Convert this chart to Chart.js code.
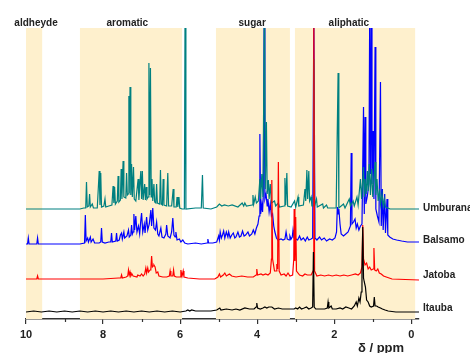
<!DOCTYPE html>
<html>
<head>
<meta charset="utf-8">
<script src="https://cdn.jsdelivr.net/npm/chart.js@4"></script>
<style>
  body { margin: 0; background: #fff; }
  canvas { display: block; }
</style>
</head>
<body>
<canvas id="nmrChart" width="470" height="353"></canvas>
<script>
// spectra as [ppm, height above its own baseline]
let umburanaPeaks = [
    [10.0,0],[9.0,0],[8.6,0],[8.5,1],
    [8.45,1],[8.43,27],[8.41,2],[8.37,3],[8.35,15],[8.33,2],[8.28,5],[8.25,1],
    [8.15,1],[8.10,38],[8.08,4],[8.06,36],[8.04,2],[7.98,3],[7.95,10],[7.93,2],[7.85,3],
    [7.77,4],[7.74,23],[7.72,6],[7.70,22],[7.68,5],[7.63,8],[7.61,33],[7.59,7],
    [7.55,9],[7.53,40],[7.51,10],[7.48,48],[7.46,12],[7.41,11],[7.39,36],[7.37,14],
    [7.35,15],[7.33,113],[7.32,16],[7.30,122],[7.28,14],[7.26,45],[7.24,12],[7.21,42],[7.19,10],
    [7.15,8],[7.09,30],[7.07,9],[7.02,38],[7.00,10],[6.98,38],[6.96,9],[6.92,25],[6.90,9],[6.88,22],[6.86,10],
    [6.83,12],[6.81,146],[6.79,14],[6.77,141],[6.75,12],[6.73,30],[6.71,8],[6.68,25],[6.66,7],
    [6.63,6],[6.61,25],[6.59,6],[6.53,5],[6.51,39],[6.49,5],[6.46,4],[6.44,30],[6.42,4],
    [6.35,3],[6.32,36],[6.30,3],[6.22,3],[6.18,20],[6.16,2],[6.10,2],[6.08,12],[6.06,2],[6.03,12],[6.01,1],
    [5.95,0],[5.89,0],[5.87,220],[5.85,0],[5.6,1],[5.45,1],[5.42,34],[5.40,1],[5.2,0],
    [5.05,2],[4.98,5],[4.92,3],[4.85,4],[4.75,3],[4.65,4],[4.5,2],[4.39,6],[4.35,3],[4.32,6],[4.28,3],
    [4.13,4],[4.11,14],[4.09,5],[4.05,12],[4.02,6],[3.97,8],[3.93,30],[3.91,10],[3.88,35],[3.85,12],
    [3.81,220],[3.79,20],[3.76,87],[3.74,15],[3.71,29],[3.69,10],[3.66,25],[3.63,6],[3.55,8],[3.52,3],[3.45,6],[3.42,2],
    [3.30,3],[3.28,31],[3.26,4],[3.23,36],[3.21,3],[3.12,2],[3.03,8],[3.00,2],[2.94,12],[2.92,3],
    [2.80,4],[2.76,20],[2.74,8],[2.71,39],[2.69,10],[2.66,38],[2.64,8],[2.60,12],[2.58,3],
    [2.55,3],[2.53,150],[2.51,3],[2.46,10],[2.44,2],[2.30,5],[2.28,1],[2.20,4],[2.17,1],
    [1.95,1],[1.90,136],[1.88,1],[1.76,5],[1.72,1],[1.61,10],[1.58,3],[1.51,8],[1.48,3],[1.41,12],[1.38,4],
    [1.32,30],[1.29,10],[1.24,42],[1.22,12],[1.20,30],[1.17,15],[1.14,38],[1.12,18],[1.09,45],[1.06,14],[1.03,40],[1.00,12],
    [0.94,47],[0.92,14],[0.89,30],[0.86,8],[0.82,20],[0.80,5],[0.76,15],[0.73,3],[0.70,10],[0.67,2],[0.55,0],[-0.2,0]
];

let balsamoPeaks = [
    [10.0,0],[9.96,0],[9.94,6],[9.92,0],[9.72,0],[9.70,6],[9.68,0],[8.6,0],
    [8.48,1],[8.46,29],[8.44,3],[8.40,6],[8.38,2],[8.33,7],[8.31,2],[8.26,5],[8.22,1],[8.10,1],
    [8.06,2],[8.04,16],[8.02,2],[7.95,1],[7.85,2],[7.80,2],[7.78,11],[7.76,2],[7.67,3],[7.65,11],[7.63,3],
    [7.58,4],[7.55,9],[7.52,11],[7.50,5],[7.46,12],[7.44,6],[7.38,8],[7.34,14],[7.32,7],[7.28,9],[7.26,19],[7.24,10],
    [7.22,12],[7.20,30],[7.18,14],[7.15,28],[7.12,12],[7.08,18],[7.05,10],[7.02,24],[7.00,31],[6.97,12],[6.93,20],[6.91,11],
    [6.87,27],[6.84,14],[6.80,20],[6.76,34],[6.74,18],[6.71,36],[6.68,16],[6.64,14],[6.61,22],[6.58,10],[6.55,8],
    [6.50,16],[6.47,7],[6.42,6],[6.37,10],[6.35,19],[6.32,8],[6.26,6],[6.22,12],[6.19,26],[6.16,9],[6.13,7],[6.11,12],[6.08,4],
    [6.02,5],[5.98,2],[5.93,4],[5.88,1],[5.80,0],[5.60,1],[5.45,0],[5.30,1],[5.28,5],[5.26,1],[5.15,1],
    [5.05,2],[5.00,8],[4.98,4],[4.96,12],[4.93,6],[4.90,9],[4.87,13],[4.84,6],[4.80,12],[4.76,7],[4.74,12],[4.70,6],
    [4.66,9],[4.62,11],[4.58,6],[4.55,7],[4.50,12],[4.46,7],[4.42,8],[4.38,13],[4.34,8],[4.30,9],[4.24,12],[4.20,8],
    [4.14,10],[4.10,14],[4.06,10],[4.02,16],[3.98,20],[3.95,28],[3.93,110],[3.91,30],[3.88,40],[3.86,32],[3.84,50],
    [3.82,220],[3.80,45],[3.77,50],[3.74,38],[3.72,45],[3.69,32],[3.66,40],[3.63,28],[3.60,30],[3.57,18],[3.54,12],[3.50,6],[3.46,4],
    [3.38,5],[3.33,4],[3.28,5],[3.25,12],[3.22,5],[3.17,4],[3.15,8],[3.12,5],[3.09,7],[3.07,14],[3.05,8],[3.03,10],[3.00,5],
    [2.95,4],[2.90,8],[2.86,4],[2.80,6],[2.75,3],[2.70,7],[2.66,4],[2.60,5],[2.56,6],[2.53,230],[2.50,6],
    [2.45,4],[2.38,7],[2.33,4],[2.26,6],[2.20,3],[2.12,5],[2.05,4],[1.98,6],[1.94,12],[1.92,37],[1.90,30],[1.88,35],[1.85,20],[1.82,10],
    [1.76,8],[1.70,10],[1.64,12],[1.58,18],[1.56,91],[1.54,20],[1.50,22],[1.46,25],[1.43,16],[1.40,20],[1.36,14],[1.32,18],[1.28,20],
    [1.24,137],[1.22,30],[1.20,127],[1.18,40],[1.14,48],[1.10,60],[1.08,230],[1.06,70],[1.04,230],[1.02,60],[0.99,113],[0.97,45],[0.94,197],[0.92,35],
    [0.88,28],[0.84,22],[0.80,162],[0.78,18],[0.75,55],[0.73,14],[0.69,50],[0.67,11],[0.63,45],[0.61,9],[0.56,7],[0.48,5],[0.38,4],[0.25,3],[0.10,2],[-0.2,2]
];

let jatobaPeaks = [
    [10.0,0],[9.72,0],[9.70,3],[9.68,0],[8.6,0],[8.0,0],[7.6,1],[7.54,1],[7.52,4],[7.50,1],[7.40,2],
    [7.36,3],[7.34,9],[7.32,4],[7.30,7],[7.28,3],[7.25,5],[7.22,3],[7.12,2],[7.10,4],[7.04,3],[7.00,5],[6.96,3],
    [6.92,5],[6.89,11],[6.87,6],[6.84,11],[6.82,7],[6.78,9],[6.76,10],[6.74,23],[6.72,12],[6.70,13],[6.68,14],[6.65,12],[6.62,6],[6.58,7],[6.55,3],
    [6.45,2],[6.35,2],[6.28,3],[6.26,8],[6.24,3],[6.19,3],[6.17,9],[6.15,3],[6.10,2],[6.00,2],[5.98,9],[5.95,3],[5.92,8],[5.90,2],
    [5.80,1],[5.5,0],[5.1,0],[5.02,2],[4.98,5],[4.95,2],[4.88,4],[4.84,6],[4.80,3],[4.72,5],[4.66,3],[4.55,2],[4.40,3],[4.25,2],
    [4.10,2],[4.03,4],[4.01,10],[3.99,4],[3.90,5],[3.85,4],[3.78,5],[3.72,4],[3.66,6],[3.63,20],[3.62,99],[3.60,20],[3.55,8],
    [3.50,8],[3.49,15],[3.47,10],[3.45,117],[3.43,8],[3.38,4],[3.30,5],[3.25,3],[3.20,6],[3.15,3],[3.08,4],
    [3.05,20],[3.04,70],[3.02,18],[3.00,62],[2.98,8],[2.90,4],[2.82,3],[2.76,5],[2.70,4],[2.60,4],[2.55,8],[2.53,270],[2.51,8],
    [2.45,3],[2.35,4],[2.25,3],[2.15,4],[2.05,3],[1.95,4],[1.85,3],[1.75,4],[1.65,3],[1.55,4],[1.45,5],[1.38,4],[1.32,6],
    [1.28,12],[1.26,54],[1.24,20],[1.20,14],[1.16,16],[1.12,10],[1.08,12],[1.04,9],[0.99,10],[0.97,31],[0.95,9],[0.91,8],[0.87,10],[0.83,6],
    [0.78,5],[0.72,3],[0.65,2],[0.50,0],[-0.2,-1]
];

let itaubaPeaks = [
    [10.0,0],[9.8,1],[9.6,0],[9.4,1],[9.2,0],[9.0,1],[8.8,0],[8.6,1],[8.4,0],[8.2,1],[8.0,0],[7.8,1],[7.6,0],[7.4,1],[7.2,0],[7.0,1],[6.8,0],[6.6,1],[6.4,0],[6.2,1],[6.0,0],
    [5.85,1],[5.80,2],[5.75,1],[5.70,2],[5.60,1],[5.4,1],[5.2,1],[5.05,2],[4.97,4],[4.94,2],[4.80,3],[4.65,2],[4.55,3],[4.45,2],[4.32,4],[4.20,3],
    [4.08,3],[4.03,5],[4.01,9],[3.99,4],[3.92,3],[3.85,4],[3.80,5],[3.75,4],[3.70,5],[3.62,5],[3.55,3],[3.45,4],[3.35,3],[3.25,3],[3.15,3],
    [3.04,3],[3.00,4],[2.95,3],[2.90,5],[2.85,3],[2.78,4],[2.72,5],[2.66,3],[2.60,4],[2.56,5],[2.54,60],[2.52,5],[2.48,3],
    [2.35,3],[2.25,3],[2.18,4],[2.16,10],[2.14,4],[2.08,6],[2.05,3],[1.95,3],[1.85,4],[1.78,3],[1.70,5],[1.62,4],[1.55,3],
    [1.48,6],[1.43,10],[1.40,6],[1.36,14],[1.33,10],[1.30,20],[1.28,40],[1.26,85],[1.24,34],[1.22,30],[1.19,25],[1.16,12],[1.12,10],[1.08,6],[1.04,5],
    [0.98,6],[0.96,15],[0.94,6],[0.90,6],[0.86,5],[0.80,4],[0.75,3],[0.68,2],[0.60,1],[0.40,0],[-0.2,0]
];

// stacking: each trace sits on its own baseline
let sampleNames = ['Itauba', 'Jatoba', 'Umburana', 'Balsamo'];
let sampleOffsets = [7, 40, 110, 75];
let sampleColors = ['#000000', '#ff0000', '#008080', '#0000ff'];
let sampleData = [itaubaPeaks, jatobaPeaks, umburanaPeaks, balsamoPeaks];

// shaded regions [from ppm, to ppm] and their captions
let regionNames = ['aldheyde', 'aromatic', 'sugar', 'aliphatic'];
let regionRanges = [[10.0, 9.58], [8.6, 5.95], [5.07, 3.15], [3.02, -0.1]];
let regionLabelPpm = [9.74, 7.37, 4.13, 1.62];

let xTicks = [0, 2, 4, 6, 8, 10];
let xMinorTicks = [1, 3, 5, 7, 9];

const FONT = 'Arial, "Liberation Sans", sans-serif';
// how far each name sits above its baseline (px)
const nameLift = [4, 4, 1, 4];

let datasets = [];
for (let i = 0; i < sampleNames.length; i++) {
    let off = sampleOffsets[i];
    datasets.push({
        label: sampleNames[i],
        data: sampleData[i].map(p => ({ x: p[0], y: p[1] + off })),
        borderColor: sampleColors[i],
        borderWidth: 1.2,
        pointRadius: 0,
        tension: 0,
        fill: false
    });
}

// yellow bands behind the spectra
const bandPlugin = {
    id: 'bands',
    beforeDatasetsDraw(chart) {
        let ctx = chart.ctx;
        let area = chart.chartArea;
        let xs = chart.scales.x;
        ctx.save();
        ctx.fillStyle = '#fef0cd';
        regionRanges.forEach(r => {
            let x1 = xs.getPixelForValue(r[0]);
            let x2 = xs.getPixelForValue(r[1]);
            ctx.fillRect(x1, area.top, x2 - x1, area.bottom - area.top);
        });
        ctx.fillStyle = '#222';
        ctx.font = 'bold 10px ' + FONT;
        ctx.textAlign = 'center';
        ctx.textBaseline = 'middle';
        for (let i = 0; i < regionNames.length; i++) {
            ctx.fillText(regionNames[i], xs.getPixelForValue(regionLabelPpm[i]), area.top - 5);
        }
        ctx.restore();
    }
};

// names at the right end of each trace, minor ticks and the axis title
const textPlugin = {
    id: 'texts',
    afterDraw(chart) {
        let ctx = chart.ctx;
        let area = chart.chartArea;
        let xs = chart.scales.x;
        let ys = chart.scales.y;
        ctx.save();
        ctx.fillStyle = '#222';
        ctx.font = 'bold 10px ' + FONT;
        ctx.textAlign = 'left';
        ctx.textBaseline = 'middle';
        for (let i = 0; i < sampleNames.length; i++) {
            ctx.fillText(sampleNames[i], area.right + 4, ys.getPixelForValue(sampleOffsets[i] + nameLift[i]));
        }

        ctx.strokeStyle = '#333';
        ctx.lineWidth = 1.2;
        xMinorTicks.forEach(v => {
            let x = Math.round(xs.getPixelForValue(v)) + 0.5;
            ctx.beginPath();
            ctx.moveTo(x, area.bottom);
            ctx.lineTo(x, area.bottom + 3);
            ctx.stroke();
        });

        ctx.font = 'bold 13px ' + FONT;
        ctx.textAlign = 'center';
        ctx.textBaseline = 'top';
        ctx.fillText('δ / ppm', 381, 342);
        ctx.restore();
    }
};

const chart = new Chart(document.getElementById('nmrChart').getContext('2d'), {
    type: 'line',
    data: { datasets: datasets },
    options: {
        responsive: false,
        animation: false,
        devicePixelRatio: 1,
        layout: { padding: { top: 28, left: 26, right: 51, bottom: 0 } },
        plugins: {
            legend: { display: false },
            tooltip: { enabled: false }
        },
        scales: {
            x: {
                type: 'linear',
                reverse: true,
                min: -0.2,
                max: 10,
                afterBuildTicks: s => { s.ticks = xTicks.map(v => ({ value: v })); },
                afterFit: s => { s.height = 34; },
                ticks: {
                    includeBounds: false,
                    maxRotation: 0,
                    padding: 4,
                    color: '#222',
                    font: { family: FONT, size: 11, weight: 'bold' }
                },
                grid: {
                    drawOnChartArea: false,
                    tickLength: 5,
                    color: '#333',
                    lineWidth: 1.2
                },
                border: { display: true, color: '#333', width: 1.5 }
            },
            y: { display: false, min: 0, max: 291 }
        }
    },
    plugins: [bandPlugin, textPlugin]
});
</script>
</body>
</html>
